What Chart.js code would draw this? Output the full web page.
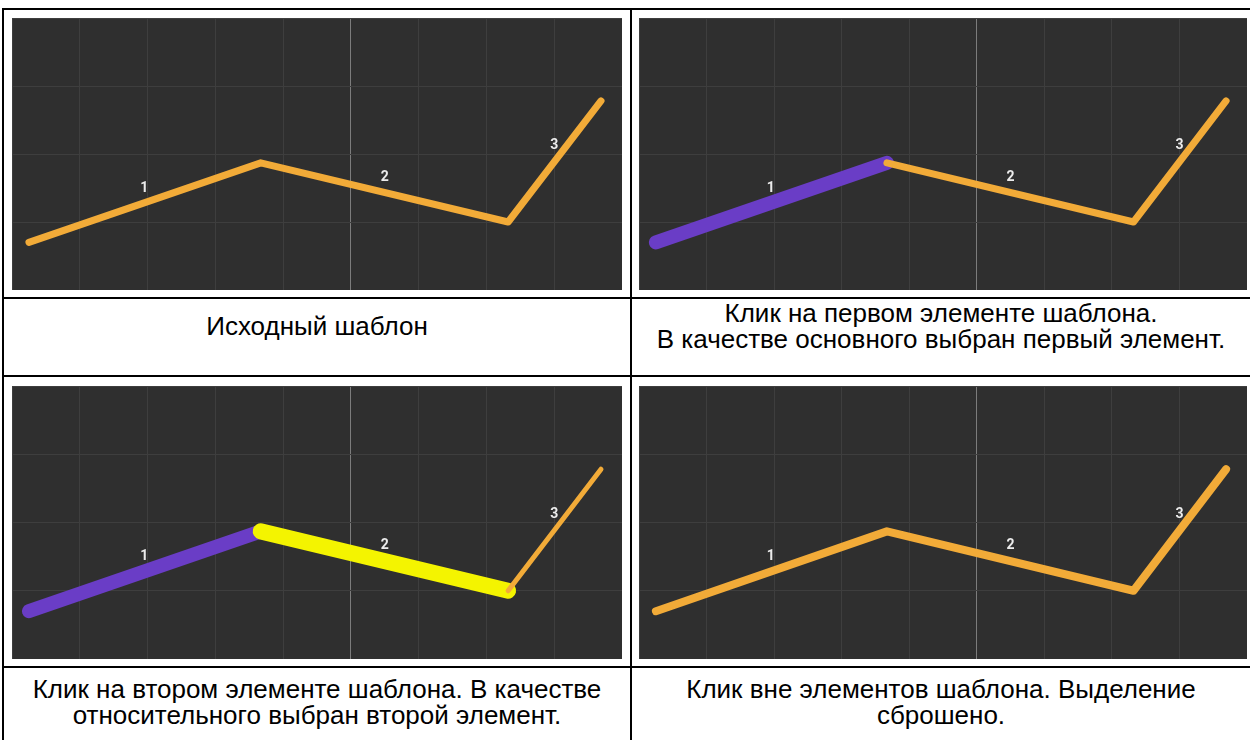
<!DOCTYPE html>
<html>
<head>
<meta charset="utf-8">
<script src="https://cdn.jsdelivr.net/npm/chart.js@4.4.1/dist/chart.umd.min.js"></script>
<style>
  html, body { margin: 0; padding: 0; background: #fff; }
  body { width: 1250px; height: 740px; position: relative; overflow: hidden; font-family: "Liberation Sans", Arial, sans-serif; }
  .rule { position: absolute; background: #000; }
  canvas.panel { position: absolute; background: #2f2f2f; }
  .cap { position: absolute; text-align: center; font-size: 26px; line-height: 25.5px; color: #000; white-space: nowrap; }
</style>
</head>
<body>

<div class="rule" style="left:2px; top:8px; width:1250px; height:2px;"></div>
<div class="rule" style="left:2px; top:8px; width:2px; height:740px;"></div>
<div class="rule" style="left:630px; top:8px; width:2px; height:740px;"></div>
<div class="rule" style="left:2px; top:297px; width:1250px; height:2px;"></div>
<div class="rule" style="left:2px; top:375px; width:1250px; height:2px;"></div>
<div class="rule" style="left:2px; top:666px; width:1250px; height:2px;"></div>

<canvas id="c1" class="panel" width="610" height="272" style="left:12px; top:18px;"></canvas>
<canvas id="c2" class="panel" width="608" height="272" style="left:639px; top:18px;"></canvas>
<canvas id="c3" class="panel" width="610" height="273" style="left:12px; top:386px;"></canvas>
<canvas id="c4" class="panel" width="608" height="273" style="left:639px; top:386px;"></canvas>

<div class="cap" style="left:4px; top:314px; width:626px;">Исходный шаблон</div>
<div class="cap" style="left:632px; top:301px; width:618px;">Клик на первом элементе шаблона.<br>В качестве основного выбран первый элемент.</div>
<div class="cap" style="left:4px; top:677px; width:626px;">Клик на втором элементе шаблона. В качестве<br>относительного выбран второй элемент.</div>
<div class="cap" style="left:632px; top:677px; width:618px;">Клик вне элементов шаблона. Выделение<br>сброшено.</div>

<script>
// template polyline (grid units)
var pathX = [0.25, 3.67, 7.32, 8.69];
var pathY = [0.70, 1.87, 1.00, 2.78];

// segment numbers
var labelText = ['1', '2', '3'];
var labelX = [1.95, 5.50, 8.00];
var labelY = [1.50, 1.66, 2.12];

var ORANGE = '#f2ab38';
var PURPLE = '#6a3dc6';
var YELLOW = '#f4f400';

// per panel: colour and width of each segment
var panels = [
    { id: 'c1', colors: [ORANGE, ORANGE, ORANGE], widths: [7, 7, 7] },
    { id: 'c2', colors: [PURPLE, ORANGE, ORANGE], widths: [14, 7, 7] },
    { id: 'c3', colors: [PURPLE, YELLOW, ORANGE], widths: [14, 16, 5] },
    { id: 'c4', colors: [ORANGE, ORANGE, ORANGE], widths: [8, 8, 8] }
];

var segmentLabels = {
    id: 'segmentLabels',
    afterDatasetsDraw: function (chart) {
        var ctx = chart.ctx;
        var xs = chart.scales.x, ys = chart.scales.y;
        ctx.save();
        ctx.fillStyle = '#ececec';
        ctx.font = 'bold 14px Roboto, sans-serif';
        ctx.textAlign = 'center';
        ctx.textBaseline = 'middle';
        labelText.forEach(function (t, i) {
            ctx.fillText(t, xs.getPixelForValue(labelX[i]), ys.getPixelForValue(labelY[i]));
        });
        ctx.restore();
    }
};

panels.forEach(function (p) {
    var pts = pathX.map(function (x, i) {
        return { x: x, y: pathY[i] };
    });

    new Chart(document.getElementById(p.id), {
        type: 'scatter',
        data: {
            datasets: [
                {
                    data: pts,
                    showLine: true,
                    pointRadius: 0,
                    borderColor: ORANGE,
                    borderCapStyle: 'round',
                    borderJoinStyle: 'round',
                    segment: {
                        borderColor: function (c) { return p.colors[c.p0DataIndex]; },
                        borderWidth: function (c) { return p.widths[c.p0DataIndex]; }
                    }
                }
            ]
        },
        options: {
            responsive: false,
            animation: false,
            events: [],
            layout: { padding: 0 },
            plugins: {
                legend: { display: false },
                tooltip: { enabled: false }
            },
            scales: {
                x: {
                    type: 'linear',
                    min: 0,
                    max: 9,
                    ticks: { display: false, stepSize: 1 },
                    border: { display: false },
                    grid: {
                        drawTicks: false,
                        lineWidth: 1,
                        color: function (c) {
                            return c.tick && c.tick.value === 5 ? '#7c7c7c' : '#3e3e3e';
                        }
                    }
                },
                y: {
                    min: 0,
                    max: 4,
                    ticks: { display: false, stepSize: 1 },
                    border: { display: false },
                    grid: { drawTicks: false, color: '#3e3e3e' }
                }
            }
        },
        plugins: [segmentLabels]
    });
});
</script>
</body>
</html>
